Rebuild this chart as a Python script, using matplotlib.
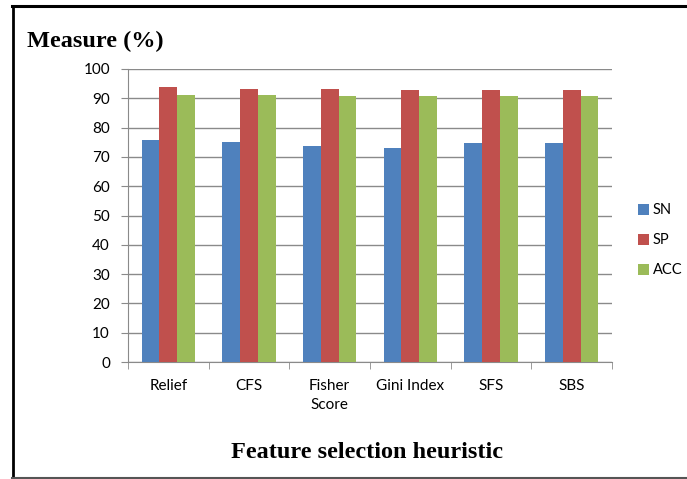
import numpy as np
import matplotlib.pyplot as plt
from matplotlib.lines import Line2D

categories = ["Relief", "CFS", "Fisher\nScore", "Gini Index", "SFS", "SBS"]
sn = [75.6, 75.1, 73.7, 73.2, 74.6, 74.6]
sp = [93.8, 93.3, 93.3, 93.0, 93.0, 93.0]
acc = [91.1, 91.1, 90.7, 90.7, 90.7, 90.7]
series = [("SN", sn, "#4F81BD"), ("SP", sp, "#C0504D"), ("ACC", acc, "#9BBB59")]

W, H = 687, 479
fig = plt.figure(figsize=(W / 100, H / 100), dpi=100)
ax = fig.add_axes([128 / W, 1 - 362 / H, (612 - 128) / W, (362 - 69) / H])

x = np.arange(len(categories))
bw = 0.22
for i, (name, vals, col) in enumerate(series):
    ax.bar(x + (i - 1) * bw, vals, width=bw, color=col, label=name, zorder=3)

font = "Lato"
ax.set_xlim(-0.5, len(categories) - 0.5)
ax.set_ylim(0, 100)
ax.set_yticks(range(0, 101, 10))
ax.yaxis.grid(True, color="#8a8a8a", lw=1, zorder=0)
ax.set_xticks(x)
ax.set_xticklabels(categories, family=font, fontsize=11, linespacing=1.45)
ax.set_xticks(np.arange(-0.5, len(categories)), minor=True)
ax.tick_params(axis="x", which="major", length=0, pad=12)
ax.tick_params(axis="x", which="minor", length=5, color="#8a8a8a", direction="out")
ax.tick_params(axis="y", length=5, color="#8a8a8a", direction="out", pad=8)
for lbl in ax.get_yticklabels():
    lbl.set_family(font)
    lbl.set_fontsize(11)
for s in ["top", "right"]:
    ax.spines[s].set_visible(False)
for s in ["left", "bottom"]:
    ax.spines[s].set_color("#8a8a8a")

leg = ax.legend(loc="center left", bbox_to_anchor=(1.033, 0.415), frameon=False,
                handlelength=0.75, handleheight=0.75, handletextpad=0.25,
                labelspacing=1.1, borderpad=0.2, prop={"family": font, "size": 10.5})

fig.text(27 / W, 1 - 41 / H, "Measure (%)", family="Liberation Serif",
         weight="bold", fontsize=17.5, va="center", ha="left")
fig.text(367 / W, 1 - 452 / H, "Feature selection heuristic", family="Liberation Serif",
         weight="bold", fontsize=17.5, va="center", ha="center")

# outer frame: dark top and left edges, grey bottom edge
fig.lines.append(Line2D([13 / W, 13 / W], [1 - 478 / H, 1 - 6 / H], transform=fig.transFigure,
                        color="black", lw=2))
fig.lines.append(Line2D([12 / W, 1.0], [1 - 6 / H, 1 - 6 / H], transform=fig.transFigure,
                        color="black", lw=2.2))
fig.lines.append(Line2D([12 / W, 1.0], [1 - 477.5 / H, 1 - 477.5 / H], transform=fig.transFigure,
                        color="#555555", lw=1.5))

fig.savefig("out.png", dpi=100)
